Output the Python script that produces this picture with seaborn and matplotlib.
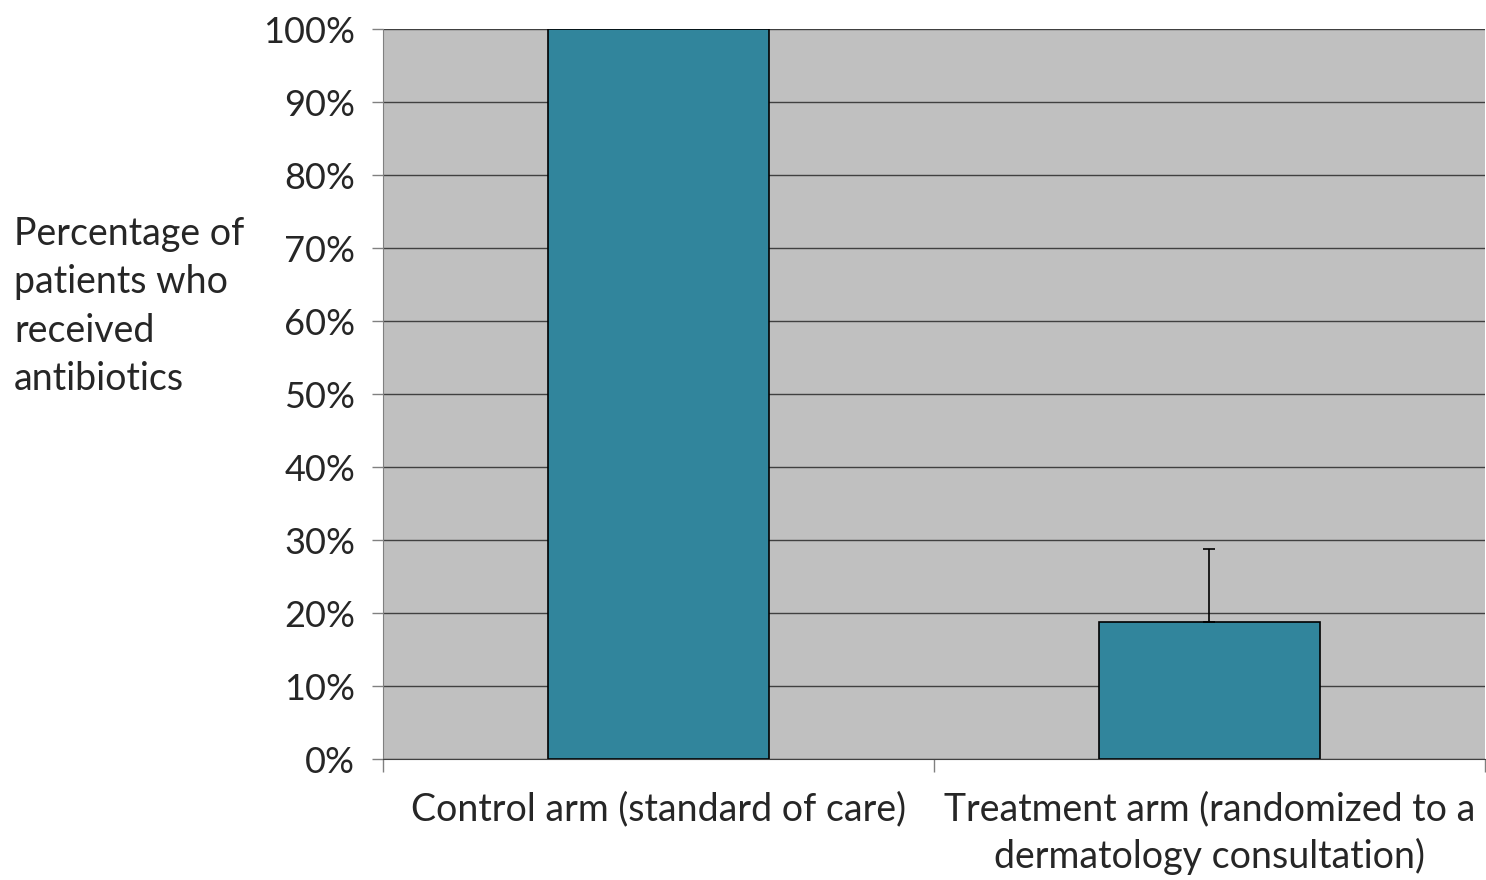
import matplotlib
matplotlib.use("Agg")
import matplotlib.pyplot as plt
import seaborn as sns
import pandas as pd

categories = ["Control arm (standard of care)",
              "Treatment arm (randomized to a\ndermatology consultation)"]
values = [100.0, 18.8]
upper_err = [0.0, 10.0]
y_ticks = [0, 10, 20, 30, 40, 50, 60, 70, 80, 90, 100]

BAR_COLOR = "#31859C"
BG_COLOR = "#C0C0C0"

sns.set_style("white")
plt.rcParams["font.family"] = ["Lato", "DejaVu Sans"]

df = pd.DataFrame({"arm": categories, "pct": values})

fig = plt.figure(figsize=(14.86, 8.8), dpi=100)
ax = fig.add_axes([0.2577, 0.1375, 0.7416, 0.8295])
ax.set_facecolor(BG_COLOR)

sns.barplot(data=df, x="arm", y="pct", color=BAR_COLOR, saturation=1,
            width=0.40, edgecolor="black", linewidth=1.2, errorbar=None, ax=ax)

# only the upper error bar on the treatment arm
ax.errorbar([1], [values[1]], yerr=[[0], [upper_err[1]]], fmt="none",
            ecolor="black", elinewidth=1.2, capsize=4, capthick=1.2)

ax.set_ylim(0, 100)
ax.set_xlim(-0.5, 1.5)
ax.set_yticks(y_ticks)
ax.set_yticklabels([f"{t}%" for t in y_ticks], fontsize=26)
ax.yaxis.grid(True, color="#404040", linewidth=1.0)
ax.set_axisbelow(True)

ax.set_xticks([-0.5, 0.5, 1.5])
ax.set_xticklabels([])
ax.tick_params(axis="x", bottom=True, direction="out", length=9.5, width=1,
               color="#808080")
ax.tick_params(axis="y", left=True, direction="out", length=8, width=1,
               color="#808080", pad=12)

for spine in ["top", "right"]:
    ax.spines[spine].set_visible(False)
ax.spines["left"].set_color("#808080")
ax.spines["bottom"].set_color("#404040")

ax.set_xlabel("")
ax.set_ylabel("")

for i, label in enumerate(categories):
    ax.text(i, -4.4, label, ha="center", va="top", fontsize=27,
            linespacing=1.34, transform=ax.transData)

fig.text(14 / 1486, 1 - 216 / 880,
         "Percentage of\npatients who\nreceived\nantibiotics",
         ha="left", va="top", fontsize=27, linespacing=1.43)

fig.savefig("out.png", dpi=100, facecolor="white")
